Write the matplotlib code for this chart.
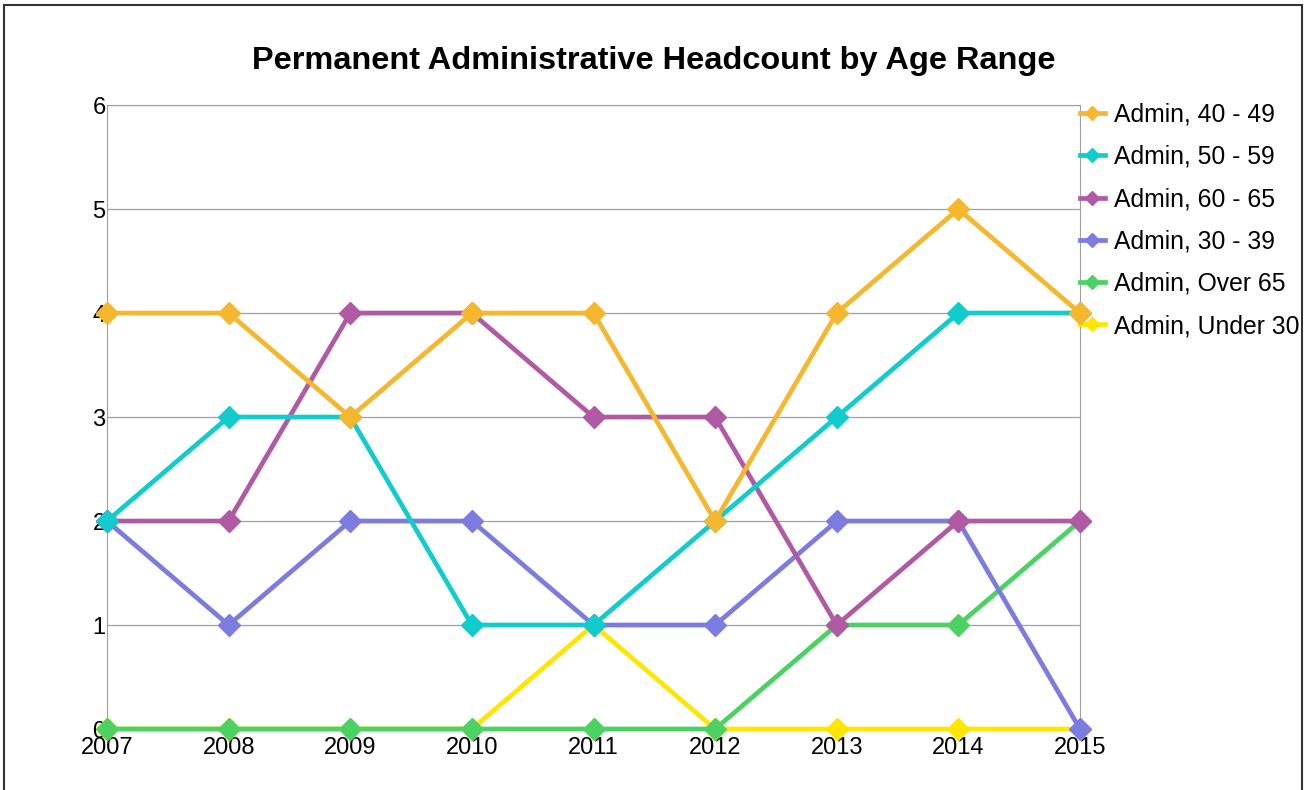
import matplotlib.pyplot as plt
from matplotlib.patches import Rectangle

plt.rcParams['font.family'] = ['Liberation Sans', 'DejaVu Sans']

years = [2007, 2008, 2009, 2010, 2011, 2012, 2013, 2014, 2015]
labels = ['Admin, 40 - 49', 'Admin, 50 - 59', 'Admin, 60 - 65',
          'Admin, 30 - 39', 'Admin, Over 65', 'Admin, Under 30']
admin_40_49 = [4, 4, 3, 4, 4, 2, 4, 5, 4]
admin_50_59 = [2, 3, 3, 1, 1, 2, 3, 4, 4]
admin_60_65 = [2, 2, 4, 4, 3, 3, 1, 2, 2]
admin_30_39 = [2, 1, 2, 2, 1, 1, 2, 2, 0]
admin_over_65 = [0, 0, 0, 0, 0, 0, 1, 1, 2]
admin_under_30 = [0, 0, 0, 0, 1, 0, 0, 0, 0]
series = [admin_40_49, admin_50_59, admin_60_65, admin_30_39, admin_over_65, admin_under_30]
colors = ['#F5B72E', '#11CCCC', '#B05AA5', '#7B7BE0', '#4CD263', '#FFE600']

fig = plt.figure(figsize=(13.07, 7.90), dpi=100)
ax = fig.add_axes([0.0819, 0.0772, 0.7444, 0.7898])

for i, (vals, lab, c) in enumerate(zip(series, labels, colors)):
    ax.plot(years, vals, color=c, lw=3.4, marker='D', markersize=11.5,
            label=lab, zorder=10 - i, clip_on=False)

ax.set_xlim(2007, 2015)
ax.set_ylim(0, 6)
ax.set_xticks(years)
ax.set_xticklabels([str(y) for y in years], fontsize=17)
ax.set_yticks(range(7))
ax.set_yticklabels([str(v) for v in range(7)], fontsize=17)
ax.tick_params(axis='both', length=0)
ax.tick_params(axis='x', pad=6)
ax.tick_params(axis='y', pad=1)
ax.grid(axis='y', color='#A0A0A0', lw=0.9)
ax.set_axisbelow(True)
for s in ['left', 'right', 'top']:
    ax.spines[s].set_color('#A0A0A0')
ax.spines['bottom'].set_visible(False)

fig.text(0.5, 0.923, 'Permanent Administrative Headcount by Age Range',
         fontsize=23.4, fontweight='bold', ha='center', va='center')

ax.legend(loc='upper left', bbox_to_anchor=(1.0, 1.004), frameon=False,
          fontsize=17.8, handlelength=1.0, handletextpad=0.36,
          labelspacing=0.74, borderaxespad=0, borderpad=0, markerscale=0.65)

fig.patches.append(Rectangle((0.003, -0.01), 0.993, 1.0037, transform=fig.transFigure,
                             fill=False, edgecolor='#333333', lw=1.5))

fig.savefig('out.png', dpi=100)
